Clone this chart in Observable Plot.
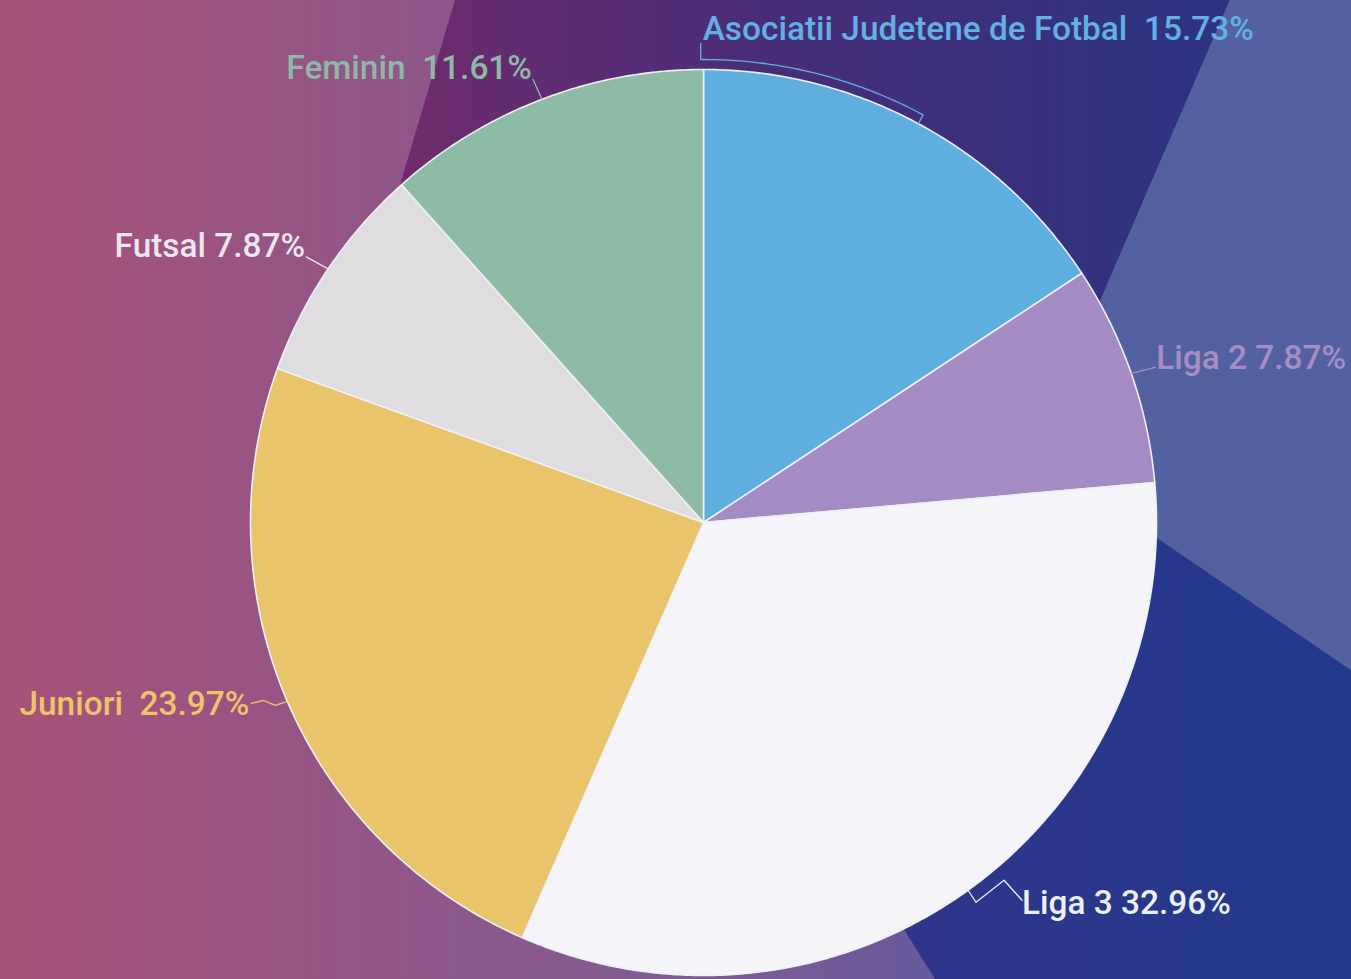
<!DOCTYPE html>
<html><head><meta charset="utf-8">
<script src="https://cdn.jsdelivr.net/npm/d3@7"></script>
<script src="https://cdn.jsdelivr.net/npm/@observablehq/plot@0.6"></script>
<style>
html,body{margin:0;padding:0;background:#6a4a8a;overflow:hidden;}
#wrap{position:relative;width:1351px;height:979px;overflow:hidden;}
#bg{position:absolute;left:0;top:0;}
#chart{position:absolute;left:0;top:0;}
#chart svg{background:transparent;}
</style></head><body>
<div id="wrap">
<svg id="bg" width="1351" height="979">
<defs>
<linearGradient id="g0" gradientUnits="userSpaceOnUse" x1="0" y1="0" x2="1351" y2="0">
<stop offset="0" stop-color="#a75279"/>
<stop offset="0.15" stop-color="#9b5380"/>
<stop offset="0.3" stop-color="#8f5687"/>
<stop offset="0.45" stop-color="#835a90"/>
<stop offset="0.6" stop-color="#745a98"/>
<stop offset="0.7" stop-color="#665a9c"/>
<stop offset="1" stop-color="#5a5aa0"/>
</linearGradient>
<linearGradient id="g1" gradientUnits="userSpaceOnUse" x1="400" y1="0" x2="1230" y2="0">
<stop offset="0" stop-color="#6e2b6c"/>
<stop offset="0.45" stop-color="#472d77"/>
<stop offset="1" stop-color="#2c3482"/>
</linearGradient>
<linearGradient id="g2" gradientUnits="userSpaceOnUse" x1="760" y1="0" x2="1351" y2="0">
<stop offset="0" stop-color="#33338a"/>
<stop offset="1" stop-color="#223a8c"/>
</linearGradient>
</defs>
<rect width="1351" height="979" fill="url(#g0)"/>
<polygon points="455,0 1230,0 1034,454 760,700 330,420" fill="url(#g1)"/>
<polygon points="1034,454 1351,670 1351,979 935,979 760,700" fill="url(#g2)"/>
<polygon points="1230,0 1351,0 1351,670 1034,454" fill="#5461a1"/>
</svg>
<div id="chart"></div>
</div>
<script>
// ---- data ----
const categories = ["Asociatii Judetene de Fotbal", "Liga 2", "Liga 3", "Juniori", "Futsal", "Feminin"];
const shares = [15.73, 7.87, 32.96, 23.97, 7.87, 11.61];
const separators = ["  ", " ", " ", "  ", " ", "  "];
const sliceColors = ["#5eaee0", "#a58bc4", "#f5f5f9", "#e9c46a", "#dfdde0", "#8ebba5"];
const labelColors = ["#62b0e4", "#a58ec6", "#eef0f8", "#ecc46a", "#ece6ee", "#8fb8a8"];

// ---- layout (pixels) ----
const W = 1351, H = 979, CX = 703, CY = 522, R = 453;
// text anchor offset from slice's outer mid point (screen px, y down)
const labelOffsets = [null, [25, -15], [54, 13], [-38, 3], [-23, -23], [-10, -31]];
const leaderOffsets = [null, [[0,0],[24,-6]], [[0,0],[8,12],[36,-10],[54,10]], [[0,0],[-12,4],[-24,-1],[-36,2]], [[0,0],[-22,-12]], [[0,0],[-9,-20]]];

const total = d3.sum(shares);
let cum = 0;
const slices = categories.map((c, i) => {
  const a0 = cum / total * 2 * Math.PI; cum += shares[i];
  const a1 = cum / total * 2 * Math.PI;
  return {c, i, a0, a1, mid: (a0 + a1) / 2};
});
const pt = (a, r) => [r * Math.sin(a), r * Math.cos(a)];

const slicePts = [];
for (const s of slices) {
  slicePts.push({c: s.c, x: 0, y: 0});
  const n = Math.max(2, Math.ceil((s.a1 - s.a0) / (Math.PI / 360)));
  for (let k = 0; k <= n; k++) {
    const [x, y] = pt(s.a0 + (s.a1 - s.a0) * k / n, R);
    slicePts.push({c: s.c, x, y});
  }
  slicePts.push({c: s.c, x: 0, y: 0});
}

const leaderPts = [];
const labels = [];
for (const s of slices) {
  const [px, py] = pt(s.mid, R);
  const text = `${s.c}${separators[s.i]}${shares[s.i].toFixed(2)}%`;
  if (s.i === 0) {
    // bracket leader along the arc
    const rr = R + 10;
    leaderPts.push({k: s.c, x: px, y: py});
    const a1 = -0.006;
    const n = 60;
    for (let k = 0; k <= n; k++) {
      const [x, y] = pt(s.mid + (a1 - s.mid) * k / n, rr);
      leaderPts.push({k: s.c, x, y});
    }
    const [ex, ey] = pt(a1, rr);
    leaderPts.push({k: s.c, x: ex, y: ey + 16});
    labels.push({text, x: ex + 2, y: ey + 30, anchor: "start", color: labelColors[s.i]});
  } else {
    for (const [dx, dy] of leaderOffsets[s.i]) leaderPts.push({k: s.c, x: px + dx, y: py - dy});
    const [ox, oy] = labelOffsets[s.i];
    labels.push({text, x: px + ox, y: py - oy, anchor: ox > 0 ? "start" : "end", color: labelColors[s.i]});
  }
}
const leaderColor = new Map(categories.map((c, i) => [c, labelColors[i]]));

const font = {fontFamily: "Roboto", fontSize: 33.4, fontWeight: 500};
const plot = Plot.plot({
  width: W, height: H,
  margin: 0,
  x: {domain: [-CX, W - CX], range: [0, W], axis: null},
  y: {domain: [-(H - CY), CY], range: [H, 0], axis: null},
  color: {domain: categories, range: sliceColors},
  style: {background: "transparent", overflow: "visible"},
  marks: [
    Plot.line(slicePts, {x: "x", y: "y", z: "c", fill: "c", stroke: "#eef0f6", strokeWidth: 1.6, strokeLinejoin: "round"}),
    Plot.line(leaderPts, {x: "x", y: "y", z: "k", stroke: d => leaderColor.get(d.k), strokeWidth: 1.3}),
    Plot.text(labels.filter(d => d.anchor === "start"), {x: "x", y: "y", text: "text", fill: d => d.color, textAnchor: "start", ...font}),
    Plot.text(labels.filter(d => d.anchor === "end"), {x: "x", y: "y", text: "text", fill: d => d.color, textAnchor: "end", ...font})
  ]
});
document.getElementById("chart").appendChild(plot);
</script>
</body></html>
